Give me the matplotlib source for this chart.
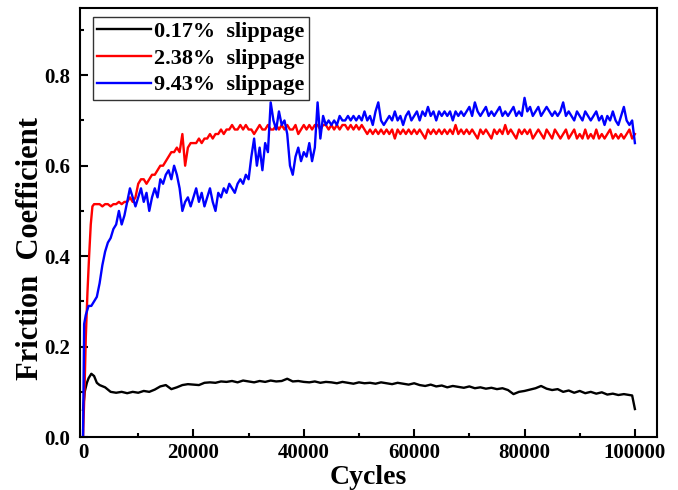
import matplotlib
matplotlib.use("Agg")
import matplotlib.pyplot as plt
from matplotlib.ticker import MultipleLocator

# ---- data (cycles vs friction coefficient) ----
black_cycles = [0, 300, 700, 1000, 1500, 2000, 2500, 3000] + list(range(4000, 99001, 1000)) + [99500, 100000]
black_mu = [0.06, 0.10, 0.12, 0.13, 0.14, 0.135, 0.12, 0.115,
            0.11, 0.10, 0.098, 0.10, 0.097, 0.10, 0.098, 0.102, 0.10, 0.105,
            0.112, 0.115, 0.106, 0.11, 0.115, 0.117, 0.116, 0.115, 0.12, 0.121,
            0.12, 0.123, 0.122, 0.124, 0.121, 0.125, 0.123, 0.121, 0.124, 0.122,
            0.125, 0.123, 0.124, 0.129, 0.123, 0.124, 0.122, 0.121, 0.123, 0.12,
            0.122, 0.121, 0.119, 0.122, 0.12, 0.118, 0.121, 0.119, 0.12, 0.118,
            0.121, 0.119, 0.117, 0.12, 0.118, 0.116, 0.119, 0.115, 0.113, 0.116,
            0.112, 0.114, 0.11, 0.113, 0.111, 0.109, 0.112, 0.108, 0.11, 0.107,
            0.109, 0.106, 0.108, 0.104, 0.095, 0.10, 0.102, 0.105, 0.108, 0.113,
            0.107, 0.104, 0.106, 0.10, 0.103, 0.098, 0.102, 0.097, 0.10, 0.096,
            0.099, 0.094, 0.096, 0.093, 0.095, 0.093, 0.092, 0.062]

red_cycles = [0, 300, 500, 800, 1100, 1400, 1700, 2000] + list(range(2500, 100001, 500))
red_mu = [0.0, 0.12, 0.22, 0.32, 0.40, 0.47, 0.51, 0.515,
          0.515, 0.515, 0.51, 0.515, 0.515, 0.51, 0.515, 0.515, 0.52, 0.515, 0.52, 0.52, 0.53, 0.52, 0.53,
          0.56, 0.57, 0.57, 0.56, 0.57, 0.58, 0.58, 0.59, 0.60, 0.60, 0.61, 0.62, 0.63, 0.63, 0.64, 0.63, 0.67, 0.60, 0.64, 0.65,
          0.65, 0.65, 0.66, 0.65, 0.66, 0.66, 0.67, 0.66, 0.67, 0.67, 0.68, 0.67, 0.68, 0.68, 0.69, 0.68, 0.68, 0.69, 0.68, 0.69,
          0.68, 0.68, 0.67, 0.68, 0.69, 0.68, 0.68, 0.69, 0.68, 0.68, 0.69, 0.68, 0.69, 0.68, 0.69, 0.68, 0.68, 0.69, 0.67, 0.68,
          0.69, 0.68, 0.69, 0.68, 0.69, 0.69, 0.68, 0.69, 0.69, 0.68, 0.69, 0.68, 0.69, 0.68, 0.69, 0.69, 0.68, 0.69, 0.68, 0.69,
          0.68, 0.69, 0.68, 0.67, 0.68, 0.67, 0.68, 0.67, 0.68, 0.67, 0.68, 0.67, 0.68, 0.66, 0.68, 0.67, 0.68, 0.67, 0.68, 0.67,
          0.68, 0.67, 0.68, 0.67, 0.66, 0.68, 0.67, 0.68, 0.67, 0.68, 0.67, 0.68, 0.67, 0.68, 0.67, 0.69, 0.67, 0.68, 0.67, 0.68,
          0.67, 0.68, 0.67, 0.66, 0.68, 0.67, 0.68, 0.67, 0.66, 0.68, 0.67, 0.68, 0.67, 0.69, 0.67, 0.68, 0.67, 0.66, 0.68, 0.67,
          0.68, 0.67, 0.68, 0.66, 0.67, 0.68, 0.67, 0.66, 0.68, 0.67, 0.66, 0.68, 0.67, 0.66, 0.67, 0.68, 0.66, 0.67, 0.68, 0.66,
          0.67, 0.66, 0.68, 0.66, 0.67, 0.66, 0.68, 0.66, 0.67, 0.66, 0.67, 0.68, 0.66, 0.67, 0.66, 0.67, 0.66, 0.67, 0.68, 0.66,
          0.67]

blue_cycles = [0, 200, 500] + list(range(1000, 100001, 500))
blue_mu = [0.0, 0.25, 0.27,
           0.29, 0.29, 0.30, 0.31, 0.34, 0.38, 0.41, 0.43, 0.44, 0.46, 0.47, 0.50, 0.47, 0.49, 0.52, 0.55, 0.53, 0.51,
           0.53, 0.55, 0.52, 0.54, 0.50, 0.53, 0.55, 0.53, 0.57, 0.56, 0.58, 0.59, 0.57, 0.60, 0.58, 0.55, 0.50, 0.52, 0.53, 0.51,
           0.53, 0.55, 0.52, 0.54, 0.51, 0.53, 0.55, 0.52, 0.50, 0.54, 0.53, 0.55, 0.54, 0.56, 0.55, 0.54, 0.56, 0.57, 0.56, 0.58,
           0.57, 0.62, 0.66, 0.60, 0.64, 0.59, 0.65, 0.63, 0.74, 0.70, 0.68, 0.72, 0.69, 0.70, 0.67, 0.60, 0.58, 0.62, 0.64, 0.61,
           0.63, 0.62, 0.65, 0.61, 0.64, 0.74, 0.66, 0.71, 0.69, 0.70, 0.69, 0.70, 0.69, 0.71, 0.70, 0.70, 0.71, 0.70, 0.71, 0.70,
           0.71, 0.70, 0.72, 0.70, 0.71, 0.69, 0.72, 0.74, 0.70, 0.69, 0.70, 0.71, 0.70, 0.72, 0.70, 0.71, 0.69, 0.71, 0.72, 0.70,
           0.71, 0.72, 0.70, 0.72, 0.71, 0.73, 0.71, 0.72, 0.70, 0.72, 0.71, 0.72, 0.71, 0.72, 0.70, 0.72, 0.71, 0.72, 0.71, 0.72,
           0.73, 0.71, 0.74, 0.72, 0.71, 0.72, 0.73, 0.71, 0.72, 0.71, 0.72, 0.73, 0.71, 0.72, 0.71, 0.72, 0.73, 0.71, 0.72, 0.71,
           0.75, 0.72, 0.73, 0.71, 0.72, 0.73, 0.71, 0.72, 0.73, 0.72, 0.71, 0.72, 0.71, 0.72, 0.74, 0.71, 0.72, 0.71, 0.70, 0.72,
           0.71, 0.70, 0.72, 0.71, 0.70, 0.71, 0.72, 0.70, 0.71, 0.69, 0.71, 0.70, 0.72, 0.70, 0.69, 0.71, 0.73, 0.70, 0.69, 0.70,
           0.65]

labels = ["0.17%  slippage", "2.38%  slippage", "9.43%  slippage"]

plt.rcParams['font.family'] = ['Liberation Serif', 'DejaVu Serif']
plt.rcParams['font.weight'] = 'bold'

fig = plt.figure(figsize=(6.78, 4.90), dpi=100)
ax = fig.add_axes([0.118, 0.108, 0.851, 0.876])

ax.plot(black_cycles, black_mu, color='black', lw=1.7, label=labels[0])
ax.plot(red_cycles, red_mu, color='red', lw=1.7, label=labels[1])
ax.plot(blue_cycles, blue_mu, color='blue', lw=1.7, label=labels[2])

ax.set_xlim(-550, 104000)
ax.set_ylim(0, 0.949)
ax.xaxis.set_major_locator(MultipleLocator(20000))
ax.xaxis.set_minor_locator(MultipleLocator(10000))
ax.yaxis.set_major_locator(MultipleLocator(0.2))
ax.yaxis.set_minor_locator(MultipleLocator(0.1))
ax.yaxis.set_major_formatter(matplotlib.ticker.FormatStrFormatter('%.1f'))
ax.tick_params(which='both', direction='in', top=False, right=False, width=1.5)
ax.tick_params(axis='x', labelsize=15, pad=4)
ax.tick_params(axis='y', labelsize=15, pad=7)
ax.tick_params(which='major', length=6)
ax.tick_params(which='minor', length=3)
for s in ax.spines.values():
    s.set_linewidth(1.5)

ax.set_xlabel('Cycles', fontsize=20, fontweight='bold', labelpad=2)
ax.set_ylabel('Friction  Coefficient', fontsize=22, fontweight='bold')
ax.yaxis.set_label_coords(-0.06, 0.44)

leg = ax.legend(loc='upper left', bbox_to_anchor=(0.0225, 0.979), borderaxespad=0,
                fontsize=16, handlelength=2.4, handletextpad=0.15,
                labelspacing=0.28, borderpad=0.2, fancybox=False,
                framealpha=1, edgecolor='#333333')
leg.get_frame().set_linewidth(1.0)

fig.savefig('out.png', dpi=100)
